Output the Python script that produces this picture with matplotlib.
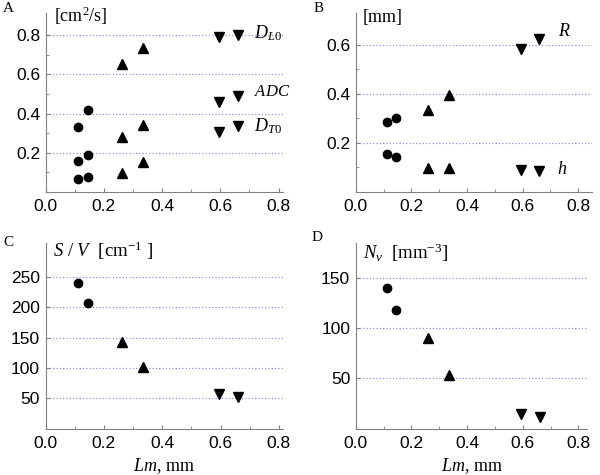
import matplotlib
matplotlib.use('Agg')
import matplotlib.pyplot as plt

plt.rcParams['font.family'] = 'Liberation Sans'
plt.rcParams['mathtext.fontset'] = 'custom'
plt.rcParams['mathtext.rm'] = 'Liberation Serif'
plt.rcParams['mathtext.it'] = 'Liberation Serif:italic'

# Lm values, mm (two points per group)
lm_circ = [0.112, 0.144]
lm_up = [0.261, 0.334]
lm_down = [0.594, 0.660]

# A: diffusion coefficients, cm^2/s
dl0 = {'circ': [0.332, 0.419], 'up': [0.651, 0.736], 'down': [0.792, 0.800]}
adc = {'circ': [0.156, 0.190], 'up': [0.281, 0.341], 'down': [0.459, 0.490]}
dt0 = {'circ': [0.066, 0.075], 'up': [0.097, 0.154], 'down': [0.307, 0.337]}

# B: sizes, mm
r_vals = {'circ': [0.285, 0.300], 'up': [0.332, 0.396], 'down': [0.581, 0.622]}
h_vals = {'circ': [0.155, 0.142], 'up': [0.097, 0.098], 'down': [0.090, 0.084]}

# C: S/V, cm^-1
sv = {'circ': [240, 207], 'up': [143, 101], 'down': [58, 52]}

# D: Nv, mm^-3
nv = {'circ': [140, 118], 'up': [90, 53], 'down': [15, 12]}

lm = {'circ': lm_circ, 'up': lm_up, 'down': lm_down}
markers = {'circ': ('o', 6), 'up': ('^', 6.5), 'down': ('v', 6.5)}

serif = 'Liberation Serif'
grey = '#808080'


def setup(ax, xmax, ylim, yticks, yminor):
    ax.set_xlim(0, xmax)
    ax.set_ylim(*ylim)
    ax.set_xticks([0.0, 0.2, 0.4, 0.6, 0.8])
    ax.set_xticklabels(['0.0', '0.2', '0.4', '0.6', '0.8'])
    ax.set_xticks([0.1, 0.3, 0.5, 0.7], minor=True)
    ax.set_yticks(yticks)
    ax.set_yticks(yminor, minor=True)
    for s in ['top', 'right']:
        ax.spines[s].set_visible(False)
    for s in ['left', 'bottom']:
        ax.spines[s].set_color(grey)
    ax.tick_params(which='both', direction='in', color=grey, labelsize=12.5)
    ax.tick_params(which='major', length=3)
    ax.tick_params(which='minor', length=2)
    ax.tick_params(axis='x', pad=5)
    ax.tick_params(axis='y', pad=4)
    ax.grid(axis='y', which='major', color='#9090e0', linestyle=':', linewidth=0.9)
    ax.set_axisbelow(True)


def scatter(ax, series):
    for k in ['circ', 'up', 'down']:
        m, ms = markers[k]
        ax.plot(lm[k], series[k], linestyle='none', marker=m, markersize=ms, color='black')


fig = plt.figure(figsize=(6, 4.75), dpi=100)

axA = fig.add_axes([0.076, 0.596, 0.396, 0.377])
axB = fig.add_axes([0.593, 0.596, 0.394, 0.377])
axC = fig.add_axes([0.076, 0.097, 0.396, 0.391])
axD = fig.add_axes([0.593, 0.097, 0.386, 0.391])

# A
setup(axA, 0.816, (0, 0.915), [0.2, 0.4, 0.6, 0.8], [0.1, 0.3, 0.5, 0.7])
for s in [dl0, adc, dt0]:
    scatter(axA, s)
axA.text(0.714, 0.81, r'$D_{L0}$', fontsize=13, va='center')
axA.text(0.714, 0.512, r'$ADC$', fontsize=12, va='center')
axA.text(0.714, 0.335, r'$D_{T0}$', fontsize=13, va='center')
axA.text(0.035, 0.985, r'[cm$^2$/s]', fontsize=13, va='center', family=serif, transform=axA.transAxes)

# B
setup(axB, 0.85, (0, 0.73), [0.2, 0.4, 0.6], [0.1, 0.3, 0.5])
for s in [r_vals, h_vals]:
    scatter(axB, s)
axB.text(0.727, 0.653, r'$R$', fontsize=13, va='center')
axB.text(0.723, 0.09, r'$h$', fontsize=13, va='center')
axB.text(0.03, 0.975, '[mm]', fontsize=13, va='center', family=serif, transform=axB.transAxes)

# C
setup(axC, 0.815, (0, 305), [50, 100, 150, 200, 250], [])
scatter(axC, sv)
axC.text(0.03, 0.96, r'$S$ / $V$  [cm$^{-1}$ ]', fontsize=13.5, va='center', family=serif, transform=axC.transAxes)
axC.set_xlabel(r'$Lm$, mm', fontsize=13, family=serif, labelpad=4)

# D
setup(axD, 0.832, (0, 184), [50, 100, 150], [])
scatter(axD, nv)
axD.text(0.03, 0.95, r'$N_v$  [mm$^{-3}$]', fontsize=13.5, va='center', family=serif, transform=axD.transAxes)
axD.set_xlabel(r'$Lm$, mm', fontsize=13, family=serif, labelpad=4)

# panel letters
fig.text(0.004, 0.983, 'A', fontsize=11, family=serif, va='center')
fig.text(0.522, 0.983, 'B', fontsize=11, family=serif, va='center')
fig.text(0.006, 0.49, 'C', fontsize=11, family=serif, va='center')
fig.text(0.52, 0.50, 'D', fontsize=11, family=serif, va='center')

fig.savefig('out.png', dpi=100)
